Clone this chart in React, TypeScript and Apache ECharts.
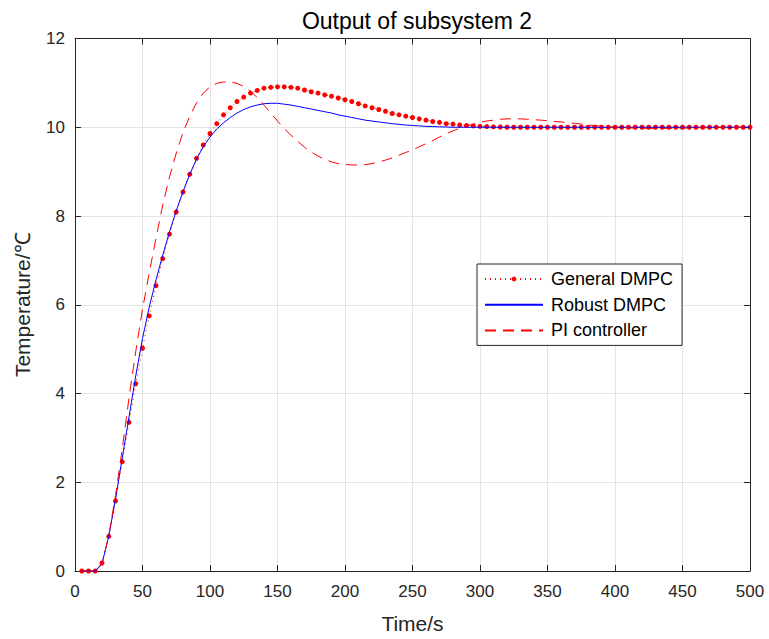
import React, { useEffect, useRef } from "react";
import * as echarts from "echarts";

const FONT = '"Liberation Sans", Arial, Helvetica, sans-serif';

// Sampling instants (s), one sample every 5 s
const timeSteps: number[] = Array.from({ length: 100 }, (_, i) => (i + 1) * 5);

// Output temperature of subsystem 2 (℃), t = 5 … 500 s
const generalDMPC: number[] = [
  0, 0, 0, 0.18, 0.78, 1.58, 2.46, 3.35, 4.22, 5.02,
  5.75, 6.43, 7.04, 7.59, 8.09, 8.54, 8.94, 9.3, 9.6, 9.86,
  10.08, 10.28, 10.44, 10.58, 10.68, 10.77, 10.83, 10.88, 10.9, 10.91,
  10.91, 10.9, 10.88, 10.84, 10.8, 10.77, 10.73, 10.7, 10.66, 10.62,
  10.58, 10.53, 10.48, 10.44, 10.4, 10.36, 10.31, 10.28, 10.25, 10.22,
  10.19, 10.16, 10.13, 10.11, 10.08, 10.07, 10.05, 10.04, 10.03, 10.02,
  10.015, 10.01, 10.005, 10, 10, 10, 10, 10, 10, 10,
  10, 10, 10, 10, 10, 10, 10, 10, 10, 10,
  10, 10, 10, 10, 10, 10, 10, 10, 10, 10,
  10, 10, 10, 10, 10, 10, 10, 10, 10, 10,
];

const robustDMPC: number[] = [
  0, 0, 0, 0.17, 0.78, 1.62, 2.55, 3.47, 4.4, 5.24,
  5.95, 6.56, 7.12, 7.64, 8.12, 8.55, 8.94, 9.28, 9.56, 9.78,
  9.96, 10.1, 10.22, 10.32, 10.4, 10.46, 10.5, 10.53, 10.54, 10.54,
  10.52, 10.5, 10.47, 10.44, 10.41, 10.38, 10.35, 10.32, 10.28, 10.25,
  10.22, 10.19, 10.16, 10.14, 10.12, 10.1, 10.08, 10.065, 10.05, 10.04,
  10.03, 10.02, 10.015, 10.01, 10.005, 10, 10, 10, 10, 10,
  10, 10, 10, 10, 10, 10, 10, 10, 10, 10,
  10, 10, 10, 10, 10, 10, 10, 10, 10, 10,
  10, 10, 10, 10, 10, 10, 10, 10, 10, 10,
  10, 10, 10, 10, 10, 10, 10, 10, 10, 10,
];

const piController: number[] = [
  0, 0, 0, 0.15, 0.8, 1.7, 2.75, 3.9, 4.95, 5.9,
  6.72, 7.5, 8.25, 8.88, 9.42, 9.88, 10.25, 10.55, 10.77, 10.91,
  10.99, 11.02, 11.02, 10.99, 10.92, 10.81, 10.67, 10.5, 10.32, 10.14,
  9.97, 9.82, 9.68, 9.55, 9.44, 9.35, 9.28, 9.22, 9.18, 9.16,
  9.15, 9.15, 9.16, 9.18, 9.22, 9.26, 9.31, 9.37, 9.43, 9.49,
  9.56, 9.63, 9.7, 9.78, 9.85, 9.92, 9.98, 10.03, 10.07, 10.11,
  10.14, 10.16, 10.18, 10.19, 10.19, 10.19, 10.18, 10.17, 10.16, 10.15,
  10.13, 10.12, 10.1, 10.09, 10.07, 10.05, 10.04, 10.02, 10.01, 10.0,
  9.99, 9.985, 9.98, 9.98, 9.975, 9.975, 9.975, 9.975, 9.98, 9.98,
  9.985, 9.99, 9.99, 9.995, 10, 10, 10, 10, 10, 10,
];

const seriesNames = ["General DMPC", "Robust DMPC", "PI controller"];
const xTicks = { min: 0, max: 500, interval: 50 };
const yTicks = { min: 0, max: 12, interval: 2 };

const pairs = (values: number[]) => timeSteps.map((t, i) => [t, values[i]]);

const AXIS_COLOR = "#262626";

export default function App() {
  const ref = useRef<HTMLDivElement>(null);

  useEffect(() => {
    if (!ref.current) return;
    const chart = echarts.init(ref.current, null, { renderer: "svg" });

    const axisLine = { show: true, onZero: false, lineStyle: { color: AXIS_COLOR, width: 1 } };
    const axisTick = { show: true, inside: true, length: 6, lineStyle: { color: AXIS_COLOR, width: 1 } };
    const splitLine = { show: true, lineStyle: { color: "#e3e3e3", width: 1 } };

    chart.setOption({
      animation: false,
      backgroundColor: "#ffffff",
      grid: { left: 75, top: 38.5, width: 675, height: 533, containLabel: false },
      xAxis: [
        {
          type: "value",
          position: "bottom",
          ...xTicks,
          axisLine,
          axisTick,
          splitLine,
          axisLabel: { margin: 12, fontSize: 17, color: AXIS_COLOR, fontFamily: FONT },
          name: "Time/s",
          nameLocation: "middle",
          nameGap: 42,
          nameTextStyle: { fontSize: 21, color: AXIS_COLOR, fontFamily: FONT },
        },
        {
          type: "value",
          position: "top",
          ...xTicks,
          axisLine,
          axisTick,
          splitLine: { show: false },
          axisLabel: { show: false },
        },
      ],
      yAxis: [
        {
          type: "value",
          position: "left",
          ...yTicks,
          axisLine,
          axisTick,
          splitLine,
          axisLabel: { margin: 10, fontSize: 17, color: AXIS_COLOR, fontFamily: FONT },
          name: "Temperature/℃",
          nameLocation: "middle",
          nameRotate: 90,
          nameGap: 42,
          nameTextStyle: { fontSize: 21, color: AXIS_COLOR, fontFamily: FONT },
        },
        {
          type: "value",
          position: "right",
          ...yTicks,
          axisLine,
          axisTick,
          splitLine: { show: false },
          axisLabel: { show: false },
        },
      ],
      legend: {
        orient: "vertical",
        left: 477,
        top: 264,
        padding: [5, 9, 5, 7],
        itemWidth: 58,
        itemHeight: 6,
        itemGap: 5.7,
        backgroundColor: "#ffffff",
        borderColor: AXIS_COLOR,
        borderWidth: 1,
        selectedMode: false,
        textStyle: { fontSize: 18, lineHeight: 20, color: "#000", fontFamily: FONT, padding: [0, 0, 0, 3] },
        data: [
          { name: seriesNames[0] },
          { name: seriesNames[1], itemStyle: { opacity: 0 } },
          { name: seriesNames[2], itemStyle: { opacity: 0 } },
        ],
      },
      graphic: [
        {
          type: "text",
          x: 417,
          y: 21,
          style: {
            text: "Output of subsystem 2",
            fontSize: 23,
            fontFamily: FONT,
            fill: "#000",
            align: "center",
            verticalAlign: "middle",
          },
        },
      ],
      series: [
        {
          name: seriesNames[0],
          type: "line",
          data: pairs(generalDMPC),
          symbol: "circle",
          symbolSize: 5,
          showSymbol: true,
          clip: false,
          silent: true,
          lineStyle: { color: "#ff0000", width: 1, type: [1, 4] },
          itemStyle: { color: "#ff0000" },
          z: 2,
        },
        {
          name: seriesNames[1],
          type: "line",
          data: pairs(robustDMPC),
          symbol: "none",
          clip: false,
          silent: true,
          lineStyle: { color: "#0000ff", width: 1 },
          itemStyle: { color: "#0000ff", opacity: 0 },
          z: 3,
        },
        {
          name: seriesNames[2],
          type: "line",
          data: pairs(piController),
          symbol: "none",
          clip: false,
          silent: true,
          lineStyle: { color: "#ff0000", width: 1, type: [11, 7] },
          itemStyle: { color: "#ff0000", opacity: 0 },
          z: 4,
        },
      ],
    });

    return () => chart.dispose();
  }, []);

  return (
    <div
      ref={ref}
      style={{ position: "absolute", left: 0, top: 0, width: 769, height: 639, background: "#fff" }}
    />
  );
}
